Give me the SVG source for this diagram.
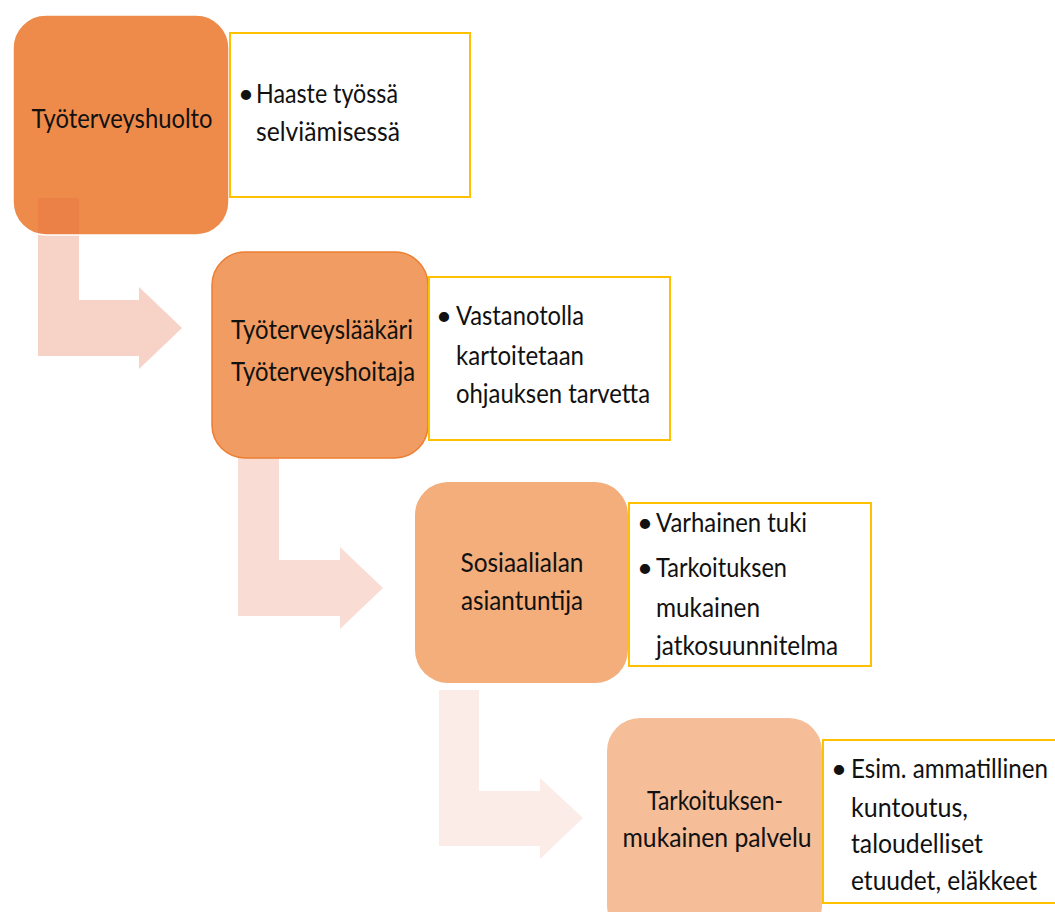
<svg xmlns="http://www.w3.org/2000/svg" width="1055" height="912" viewBox="0 0 1055 912">
<style>
.lbl{font-family:Lato,"Open Sans","Liberation Sans",sans-serif;font-size:27.5px;fill:#111}
.ctr{text-anchor:middle}
.tb{fill:#fff;stroke:#FFC000;stroke-width:2}
</style>
<rect width="1055" height="912" fill="#fff"/>
<g id="node1">
<rect x="13" y="15" width="216" height="220" rx="33" fill="#EF8B4A"/>
</g>
<g id="connectors">
<path d="M38,198 H79 V300 H139 V287 L182,328 L139,369 V356 H38 Z" fill="#E56A42" fill-opacity="0.3"/>
<path d="M238,458 H279 V560 H340 V547 L383,588 L340,629 V616 H238 Z" fill="#F9DDD4"/>
<path d="M439,690 H479 V791 H540 V778 L583,818 L540,859 V846 H439 Z" fill="#FBECE8"/>
</g>
<g id="node1-label">
<rect x="13" y="15" width="216" height="220" rx="33" fill="none" stroke="#fff" stroke-width="1.5"/>
<text class="lbl ctr" x="122" y="128" textLength="181" lengthAdjust="spacingAndGlyphs">Työterveyshuolto</text>
</g>
<g id="text1">
<rect class="tb" x="230" y="33" width="240" height="164"/>
<text class="lbl" x="238" y="103">•</text>
<text class="lbl" x="256" y="103" textLength="142" lengthAdjust="spacingAndGlyphs">Haaste työssä</text>
<text class="lbl" x="256" y="141" textLength="144" lengthAdjust="spacingAndGlyphs">selviämisessä</text>
</g>
<g id="node2">
<rect x="212" y="252" width="216" height="206" rx="33" fill="#F09C62" stroke="#ED7D31" stroke-width="1.5"/>
<text class="lbl ctr" x="322" y="339" textLength="182" lengthAdjust="spacingAndGlyphs">Työterveyslääkäri</text>
<text class="lbl ctr" x="323" y="381" textLength="184" lengthAdjust="spacingAndGlyphs">Työterveyshoitaja</text>
</g>
<g id="text2">
<rect class="tb" x="429" y="277" width="241" height="163"/>
<text class="lbl" x="436" y="325">•</text>
<text class="lbl" x="456" y="325" textLength="128" lengthAdjust="spacingAndGlyphs">Vastanotolla</text>
<text class="lbl" x="456" y="365" textLength="128" lengthAdjust="spacingAndGlyphs">kartoitetaan</text>
<text class="lbl" x="456" y="403" textLength="194" lengthAdjust="spacingAndGlyphs">ohjauksen tarvetta</text>
</g>
<g id="node3">
<rect x="415" y="482" width="213" height="201" rx="33" fill="#F3AE7C"/>
<text class="lbl ctr" x="522" y="572" textLength="123" lengthAdjust="spacingAndGlyphs">Sosiaalialan</text>
<text class="lbl ctr" x="522" y="610" textLength="122" lengthAdjust="spacingAndGlyphs">asiantuntija</text>
</g>
<g id="text3">
<rect class="tb" x="629" y="503" width="242" height="163"/>
<text class="lbl" x="637" y="532">•</text>
<text class="lbl" x="656" y="532" textLength="151" lengthAdjust="spacingAndGlyphs">Varhainen tuki</text>
<text class="lbl" x="637" y="577">•</text>
<text class="lbl" x="656" y="577" textLength="131" lengthAdjust="spacingAndGlyphs">Tarkoituksen</text>
<text class="lbl" x="656" y="617" textLength="104" lengthAdjust="spacingAndGlyphs">mukainen</text>
<text class="lbl" x="656" y="655" textLength="182" lengthAdjust="spacingAndGlyphs">jatkosuunnitelma</text>
</g>
<g id="node4">
<rect x="607" y="718" width="215" height="220" rx="33" fill="#F5BD98"/>
<text class="lbl ctr" x="715" y="810" textLength="136" lengthAdjust="spacingAndGlyphs">Tarkoituksen-</text>
<text class="lbl ctr" x="717" y="847" textLength="189" lengthAdjust="spacingAndGlyphs">mukainen palvelu</text>
</g>
<g id="text4">
<rect class="tb" x="823" y="740" width="240" height="163"/>
<text class="lbl" x="831" y="778">•</text>
<text class="lbl" x="851" y="778" textLength="197" lengthAdjust="spacingAndGlyphs">Esim. ammatillinen</text>
<text class="lbl" x="851" y="817" textLength="117" lengthAdjust="spacingAndGlyphs">kuntoutus,</text>
<text class="lbl" x="851" y="853" textLength="132" lengthAdjust="spacingAndGlyphs">taloudelliset</text>
<text class="lbl" x="851" y="890" textLength="186" lengthAdjust="spacingAndGlyphs">etuudet, eläkkeet</text>
</g>
</svg>
